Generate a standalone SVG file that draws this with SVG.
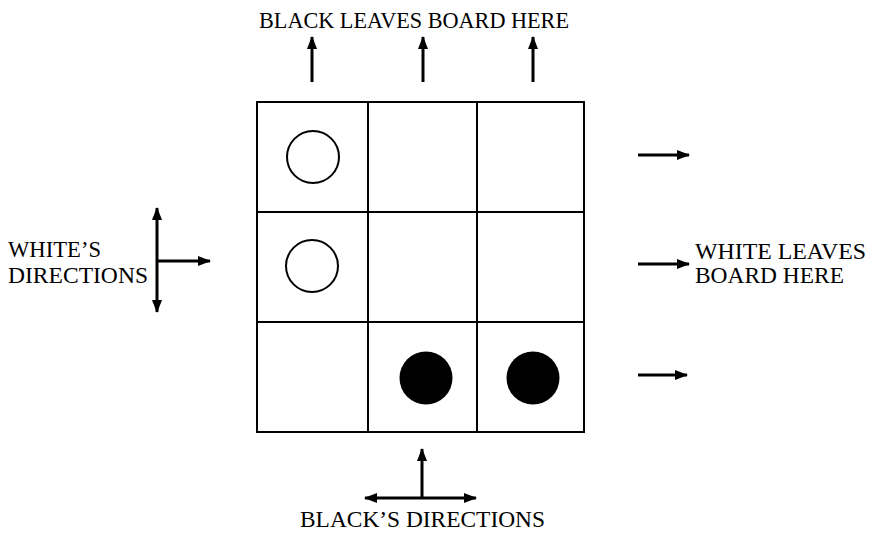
<svg xmlns="http://www.w3.org/2000/svg" width="879" height="534" viewBox="0 0 879 534">
<style>
.grid{fill:none;stroke:#000;stroke-width:2}
.arr{stroke:#000;stroke-width:3;fill:none;marker-end:url(#ah)}
.t{font-family:"Liberation Serif",serif;font-size:23px;fill:#000}
</style>
<defs>
<marker id="ah" markerUnits="userSpaceOnUse" markerWidth="14" markerHeight="12" refX="12" refY="5" orient="auto">
<path d="M0,0 L13,5 L0,10 Z" fill="#000"/>
</marker>
</defs>
<rect width="879" height="534" fill="#fff"/>
<g id="board">
<rect class="grid" x="257" y="102" width="327" height="330"/>
<line class="grid" x1="368" y1="102" x2="368" y2="432"/>
<line class="grid" x1="477" y1="102" x2="477" y2="432"/>
<line class="grid" x1="257" y1="212" x2="584" y2="212"/>
<line class="grid" x1="257" y1="322" x2="584" y2="322"/>
</g>
<g id="white1"><circle cx="313" cy="157" r="26" fill="#fff" stroke="#000" stroke-width="2"/></g>
<g id="white2"><circle cx="312" cy="266" r="26" fill="#fff" stroke="#000" stroke-width="2"/></g>
<g id="black1"><circle cx="426" cy="378" r="26.5" fill="#000"/></g>
<g id="black2"><circle cx="533" cy="378" r="26.5" fill="#000"/></g>
<g id="connectors">
<line class="arr" x1="312" y1="82" x2="312" y2="37"/>
<line class="arr" x1="423" y1="82" x2="423" y2="37"/>
<line class="arr" x1="533" y1="82" x2="533" y2="37"/>
<line class="arr" x1="638" y1="155" x2="689" y2="155"/>
<line class="arr" x1="638" y1="264" x2="689" y2="264"/>
<line class="arr" x1="638" y1="375" x2="687" y2="375"/>
<line class="arr" x1="157" y1="260" x2="157" y2="208"/>
<line class="arr" x1="157" y1="260" x2="157" y2="312"/>
<line class="arr" x1="157" y1="261" x2="210" y2="261"/>
<line class="arr" x1="422" y1="498" x2="422" y2="449"/>
<line class="arr" x1="422" y1="498" x2="365" y2="498"/>
<line class="arr" x1="422" y1="498" x2="476" y2="498"/>
</g>
<g id="labels">
<text class="t" x="259" y="28" textLength="310" lengthAdjust="spacingAndGlyphs">BLACK LEAVES BOARD HERE</text>
<text class="t" x="8" y="257" textLength="93" lengthAdjust="spacingAndGlyphs">WHITE’S</text>
<text class="t" x="8" y="283" textLength="140" lengthAdjust="spacingAndGlyphs">DIRECTIONS</text>
<text class="t" x="695" y="259" textLength="171" lengthAdjust="spacingAndGlyphs">WHITE LEAVES</text>
<text class="t" x="695" y="283" textLength="149" lengthAdjust="spacingAndGlyphs">BOARD HERE</text>
<text class="t" x="300" y="527" textLength="245" lengthAdjust="spacingAndGlyphs">BLACK’S DIRECTIONS</text>
</g>
</svg>
